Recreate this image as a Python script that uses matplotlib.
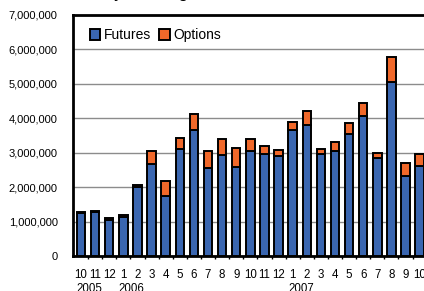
import matplotlib
matplotlib.use("Agg")
import matplotlib.pyplot as plt
import numpy as np

plt.rcParams['font.family'] = ['Liberation Sans', 'DejaVu Sans']

# months Oct 2005 .. Oct 2007
months = ["10", "11", "12", "1", "2", "3", "4", "5", "6", "7", "8", "9",
          "10", "11", "12", "1", "2", "3", "4", "5", "6", "7", "8", "9", "10"]
years = ["2005", "2006", "2007"]
year_start = [0, 3, 15]

futures = [1250000, 1270000, 1060000, 1140000, 2000000, 2660000, 1740000,
           3120000, 3650000, 2560000, 2930000, 2590000, 3050000, 2960000,
           2910000, 3650000, 3800000, 2960000, 3050000, 3540000, 4070000,
           2860000, 5040000, 2330000, 2610000]
options = [30000, 40000, 30000, 60000, 60000, 390000, 440000, 300000,
           470000, 490000, 480000, 560000, 360000, 230000, 160000, 250000,
           410000, 160000, 260000, 310000, 360000, 140000, 750000, 360000,
           350000]

blue = '#3a66b0'
orange = '#f0682a'

W, H = 424, 291
fig = plt.figure(figsize=(W / 100, H / 100), dpi=100)
# axes: left spine at x=73, zero line at y=256, top at y=15
ax = fig.add_axes([73 / W, (H - 256) / H, 365 / W, 241 / H])

x = np.arange(len(months))
ax.bar(x, futures, width=0.6, color=blue, edgecolor='black', linewidth=1.4,
       label='Futures', zorder=3)
ax.bar(x, options, width=0.6, bottom=futures, color=orange, edgecolor='black',
       linewidth=1.4, label='Options', zorder=3)

ax.set_ylim(0, 7000000)
ax.set_xlim(-0.57, 25.3)
ax.set_yticks(np.arange(0, 7000001, 1000000))
ax.set_yticklabels(['{:,}'.format(v) for v in range(0, 7000001, 1000000)],
                   fontsize=8)
ax.tick_params(axis='y', length=0, pad=11)
ax.yaxis.grid(True, color='#8c8c8c', linewidth=1.0, zorder=0)

ax.set_xticks(x)
ax.set_xticklabels(months, fontsize=8.3)
ax.tick_params(axis='x', length=0, pad=9)
ax.set_xticks(x[:-1] + 0.5, minor=True)
ax.tick_params(axis='x', which='minor', length=2.5, width=1, direction='out')

for yr, i in zip(years, year_start):
    ax.text(i + 0.6, -0.112, yr, transform=ax.get_xaxis_transform(),
            ha='center', va='top', fontsize=8.3)

for side in ['left', 'bottom', 'top']:
    ax.spines[side].set_linewidth(2)
    ax.spines[side].set_color('black')
ax.spines['right'].set_visible(False)

leg = ax.legend(loc='upper left', bbox_to_anchor=(0.02, 0.985), frameon=False,
                ncol=2, fontsize=10, handlelength=0.75, handleheight=0.75,
                handletextpad=0.25, columnspacing=0.6, borderaxespad=0.3)

# title is cropped at the top of the picture
fig.text(0.37, 1.0 + 3.0 / H, 'Monthly Trading Volume', ha='center',
         va='baseline', fontsize=13)

fig.savefig('out.png', dpi=100)
